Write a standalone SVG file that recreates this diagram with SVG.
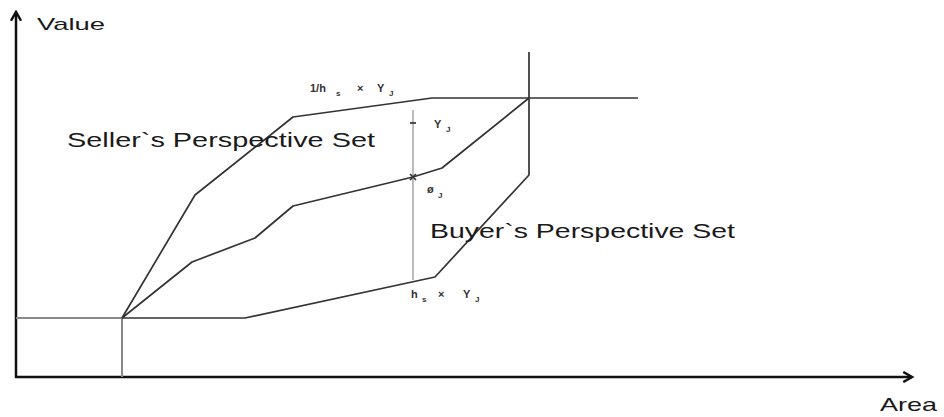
<svg xmlns="http://www.w3.org/2000/svg" width="944" height="417" viewBox="0 0 944 417">
<style>
.ax{stroke:#111;stroke-width:2.5;fill:none}
.ln{stroke:#333;stroke-width:1.7;fill:none;stroke-linejoin:round}
.gr{stroke:#888;stroke-width:2;fill:none}
.lg{stroke:#bbb;stroke-width:2;fill:none}
.t{font-family:"Liberation Sans",Arial,sans-serif;fill:#1a1a1a}
.s{font-family:"Liberation Sans",Arial,sans-serif;fill:#333;font-weight:bold;font-size:11px}
.ss{font-family:"Liberation Sans",Arial,sans-serif;fill:#333;font-weight:bold;font-size:8px}
</style>
<defs>
<marker id="ah" viewBox="0 0 10 10" refX="8" refY="5" markerWidth="5" markerHeight="5" orient="auto" markerUnits="strokeWidth">
<path d="M1,1 L8,5 L1,9" fill="none" stroke="#111" stroke-width="2"/>
</marker>
</defs>
<g id="connectors">
<line class="ax" x1="16" y1="378" x2="16" y2="12" marker-end="url(#ah)"/>
<line class="ax" x1="15" y1="377" x2="912" y2="377" marker-end="url(#ah)"/>
<polyline class="gr" points="16,318 122,318"/>
<line class="gr" x1="122" y1="318" x2="122" y2="377"/>
<line class="lg" x1="413" y1="110" x2="413" y2="280"/>
<line class="ln" x1="410" y1="123" x2="416" y2="123"/>
<polyline class="ln" points="122,318 245,318 435,277 529,175 529,52"/>
<polyline class="ln" points="122,318 195,195 293,117 432,98 638,98"/>
<polyline class="ln" points="122,318 192,262 255,238 293,206 413,177 442,168 529,98"/>
<path class="ln" d="M410,174 L416,180 M416,174 L410,180" stroke-width="1.2"/>
</g>
<g id="axis-labels">
<text class="t" x="37" y="30" font-size="17" textLength="68" lengthAdjust="spacingAndGlyphs">Value</text>
<text class="t" x="880" y="411" font-size="19" textLength="57" lengthAdjust="spacingAndGlyphs">Area</text>
</g>
<g id="seller-set">
<text class="t" x="67" y="147" font-size="21" textLength="308" lengthAdjust="spacingAndGlyphs">Seller`s Perspective Set</text>
</g>
<g id="buyer-set">
<text class="t" x="430" y="238" font-size="21" textLength="305" lengthAdjust="spacingAndGlyphs">Buyer`s Perspective Set</text>
</g>
<g id="label-top">
<text class="s" x="310" y="92">1/h</text><text class="ss" x="336" y="96">s</text>
<text class="s" x="357" y="92">×</text>
<text class="s" x="377" y="92">Y</text><text class="ss" x="389" y="96">J</text>
</g>
<g id="label-yj">
<text class="s" x="434" y="128">Y</text><text class="ss" x="446" y="132">J</text>
</g>
<g id="label-phi">
<text class="s" x="427" y="193" font-size="13">ø</text><text class="ss" x="438" y="198">J</text>
</g>
<g id="label-bottom">
<text class="s" x="411" y="298">h</text><text class="ss" x="422" y="302">s</text>
<text class="s" x="438" y="298">×</text>
<text class="s" x="463" y="298">Y</text><text class="ss" x="475" y="302">J</text>
</g>
</svg>
